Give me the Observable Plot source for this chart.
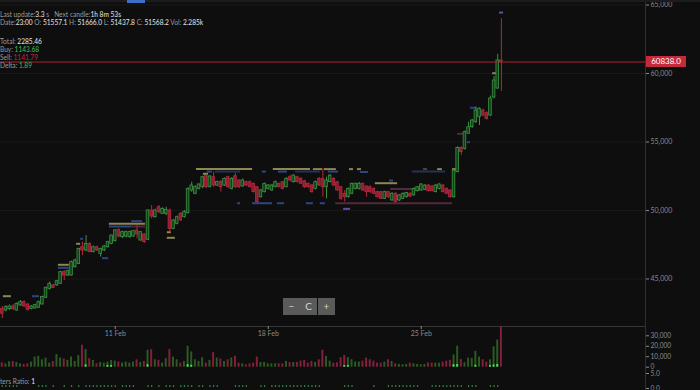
<!DOCTYPE html>
<html><head><meta charset="utf-8">
<script src="https://cdn.jsdelivr.net/npm/d3@7"></script>
<script src="https://cdn.jsdelivr.net/npm/@observablehq/plot@0.6"></script>
<style>
html,body{margin:0;padding:0;background:#0e0e0e;}
#wrap{position:relative;width:700px;height:390px;overflow:hidden;background:#0e0e0e;font-family:Lato,sans-serif;}
#wrap svg{position:absolute;left:0;overflow:visible;}
.info{position:absolute;left:0;font-size:6.6px;line-height:8px;color:#9a9a9a;white-space:nowrap;}
.info .v{color:#e4e4e4;}
.info .g{color:#3fbf5c;}
.info .r{color:#c4283e;}
.btn{position:absolute;top:298px;width:17px;height:17px;background:#5a5a5a;color:#d4d4d4;font-size:10px;line-height:17px;text-align:center;}
</style></head><body><div id="wrap"></div>
<script>
// ---- data: 4h candles from 5 Feb 20:00 UTC ----
const startTime = Date.UTC(2024, 1, 5, 20);
const open = [42820,42700,42800,42990,42700,43070,43310,43140,42820,42850,
42900,43140,43630,44280,44530,44530,44650,45500,45250,45250,
45860,46100,47320,47080,47560,46960,47320,46830,47080,47320,
47560,47760,48590,48050,48100,48050,48100,48540,47810,48250,
47860,50000,49510,50240,49760,49760,50000,48660,49030,49760,
49510,49800,51460,51220,51580,51700,52500,51700,52430,51820,
52070,51820,52430,51580,52500,52190,51750,52070,52070,51950,
51700,50970,51340,51580,51460,51700,51950,52070,51700,52430,
52070,52430,52310,52140,51950,51820,51580,52310,52310,51700,
52070,52310,52070,51700,51220,50970,51220,51580,51580,51950,
51750,51700,51580,51340,51340,50850,51340,50730,51220,50730,
50850,50970,51220,51100,51410,51460,51510,51820,51750,51340,
51580,51820,51580,51460,50970,52800,54570,54500,55600,56080,
56450,56810,57300,57100,56930,58250,58900,60950];
const high = [43000,43050,43100,43140,43260,43430,43400,43200,43050,43150,
43400,43750,44400,44770,44600,44900,45550,45600,45650,46300,
46450,47250,47690,48170,47650,47400,47400,47250,47450,47750,
48200,48600,48650,48500,48500,48500,48550,48900,48450,48300,
50050,50360,50100,50360,50200,50240,50100,49350,49600,49850,
50000,51650,52070,51800,51950,52500,52550,52550,52800,52150,
52200,52380,52500,52400,52700,52250,52300,52150,52150,52000,
51750,51550,52000,51900,51900,52150,52000,52100,52400,52550,
52600,52500,52400,52200,52000,51900,52150,52400,53040,52430,
52600,52400,52100,51750,51460,51650,52000,52000,52050,52000,
51800,51800,51650,51400,51400,51400,51400,51300,51300,51150,
51280,51330,51300,51650,51750,51950,51900,51900,51800,51900,
51950,51900,51650,51500,53000,54650,54650,55800,56450,56650,
57540,57500,57400,57200,58350,59780,61390,64000];
const low = [42100,42600,42700,42700,42650,43000,42950,42650,42750,42800,
42850,43100,43580,44200,44300,44450,44600,44890,45200,45200,
45800,46050,46700,47000,46900,46900,47000,46600,47000,47250,
47500,47700,48000,47950,48000,47980,48050,47930,47750,47600,
47800,49390,49450,49750,49700,49630,48420,48600,48950,49200,
49450,49750,51330,51150,51500,51600,51600,51650,51700,51750,
51340,51750,51600,51500,51600,51600,51700,51750,51650,51280,
50530,50900,51280,51500,51400,51650,51650,51500,51650,52100,
52000,52000,51900,51600,51600,51250,51500,51750,50970,50850,
52000,51750,51400,50750,50610,50900,51150,51500,51500,51400,
50970,51250,51150,50900,50800,50800,50900,50680,50550,50650,
50800,50900,50950,51050,51350,51400,51450,51350,51350,51280,
51500,51280,51150,50900,50900,52750,54020,54400,55550,56000,
56350,56200,56850,56600,56850,58150,58850,58700];
const close = [42460,42940,42990,42800,43190,43310,42990,42750,42990,43090,
43310,43680,44360,44650,44350,44840,45500,45250,45570,46230,
46350,47200,47080,47560,46960,47320,47080,47200,47370,47690,
48170,48540,48100,48420,48420,48420,48490,48250,48420,47690,
50000,49560,50000,49880,50120,50050,48660,49270,49510,49270,
49880,51580,51820,51700,51900,52430,51700,52480,51820,52070,
51700,52310,51700,52310,51700,51700,52190,51820,51700,51340,
50610,51460,51950,51820,51820,52070,51700,51580,52310,52190,
52550,52070,51950,51700,51700,51340,52070,51820,51700,52190,
52550,51820,51460,50850,50970,51580,51950,51950,51950,51460,
51340,51340,51220,50970,50850,51340,50970,51220,50610,51100,
51220,51270,51020,51580,51700,51900,51820,51410,51410,51820,
51900,51340,51220,50970,52920,54570,54260,55720,56080,56570,
57300,57420,56930,56690,58180,59490,60950,60838];
// volume in thousands
const volume = [4.2,3.2,5.2,5.5,4.5,3.2,2.6,3.2,4.9,9.7,
10.4,7.1,8.7,3.9,5.5,12,8.7,7.8,6.5,9.7,
5.5,11,21,16.8,8.1,6.5,3.2,4.5,3.9,4.9,
6.5,5.8,4.9,3.9,4.9,3.9,4.9,7.1,4.5,5.5,
16.2,16.8,7.1,6.5,3.9,8.1,16.8,9.7,7.1,3.9,
5.5,20,14.6,7.1,5.5,9.1,3.9,6.5,13.9,8.7,
7.8,5.5,7.1,8.7,10.4,3.9,3.2,2.3,3.2,3.9,
9.7,4.5,4.5,3.2,3.2,3.2,3.2,3.2,5.5,4.5,
4.5,4.5,5.8,6.5,3.9,5.5,4.5,7.1,16.2,10.4,
5.8,3.9,4.2,9.1,11.3,9.1,7.1,4.9,4.9,5.8,
8.7,7.1,5.8,3.9,3.9,4.9,7.1,5.5,3.2,2.6,
2.3,2.6,3.9,3.2,2.6,2.3,2.6,3.9,3.9,3.9,
3.9,4.9,5.8,6.5,11.7,20,7.4,4.2,8.7,8.4,
15.2,9.7,7.1,4.9,7.1,19.4,25.9,38.5];
// bright buy-burst segments at the foot of some volume bars (index, thousands)
const burstIdx = [23,29,30,40,51,52,94,95,124,125,130,134,135,136];
const burstVol = [2.2,1.6,1.6,2.4,2.4,1.8,1.6,1.6,2.4,2.6,1.8,1.6,2.2,2.6];
// traders ratio dots
const ratioIdx = [0,1,2,3,4,10,11,12,14,17,19,21,23,24,25,26,27,28,29,30,31,33,34,35,36,40,41,43,45,46,47,49,50,51,52,54,55,57,58,59,64,65,66,67,71,72,74,75,76,77,78,79,80,81,82,83,84,85,86,87,94,95,96,102,106,107,108,109,110,111,112,113,114,118,119,120,121,122,123,124,125,126,128,129,130,134,135,136];
const ratioValue = 0.8;
// level markers: [price, from candle, to candle, kind]
const levels = [
[53020,53.3,68.7,"ask"],[53020,74.4,84.6,"ask"],[53020,85.4,87.9,"ask"],[53020,88.4,91.7,"ask"],
[53020,95.3,96.4,"ask"],[53020,97.5,98.6,"ask"],[53020,115.6,116.7,"askDim"],[53020,119.5,120.8,"ask"],[53020,123.6,125,"ask"],
[52840,56.3,57.7,"bid"],[52840,58.5,65.4,"bidDim"],[52840,71.4,72.5,"bid"],[52840,75.8,78.3,"bid"],
[52840,80.5,87.3,"bidDim"],[52840,89.5,92.3,"bid"],[52840,112.6,121.7,"bidDim"],[52810,98.3,100.5,"bid"],
[52680,55.2,56.6,"ask"],[51992,102.4,108.5,"ask"],[52190,106.3,107.4,"bid"],[51570,106.6,112.6,"mix"],
[50530,64.6,65.4,"bid"],[50530,68.7,74.2,"bid"],[50530,75.5,77.5,"bid"],[50530,83.5,85.4,"bid"],[50530,87.3,88.7,"bid"],
[50530,91.5,123.6,"mix"],[50120,93.7,95.6,"vol"],
[49030,29.4,39.3,"ask"],[48830,29.4,35.5,"bid"],[48830,35.5,39.3,"mix"],[49220,35.5,38.5,"bid"],
[48415,45.3,46.4,"orange"],[48006,45.3,47.5,"ask"],[47568,20.4,21.5,"ask"],[47930,21.5,22.3,"bid"],
[46517,27.5,29.2,"bid"],[46035,15.4,18.4,"ask"],[45816,15.4,18.4,"bid"],[43743,0.3,2.5,"ask"],[43743,8.3,10.2,"bid"],
[55600,125,126.6,"mix"],[54985,127.7,128.5,"bid"],[57500,128.5,130.4,"bid"],[60020,134.6,136,"ask"],[64450,136.5,137.6,"vol"]
];
const priceTicks = [45000,50000,55000,60000,65000];
const volTicks = [0,10000,20000,30000];
const ratioTicks = [0,5];
const dateTicks = [Date.UTC(2024,1,11),Date.UTC(2024,1,18),Date.UTC(2024,1,25)];
const lastPrice = 60838.0;

// ---- build ----
const H4 = 4*3600e3;
const T = i => new Date(startTime + i*H4);
const G_FILL="#163d1b", G_LINE="#3b9443", R_FILL="#8e1d30", R_LINE="#b6283f";
const VG="#2b5b22", VR="#861f3c";
const levelColor = {ask:"#8c8753", askDim:"#4e4b33", bid:"#2c4684", bidDim:"#223354", mix:"#55283a", vol:"#6a4aa4", orange:"#b07a3c"};
const candles = open.map((o,i)=>({t:T(i), o, h:high[i], l:low[i], c:close[i], v:volume[i]*1000, up: close[i]>=o}));
const lv = levels.map(([p,a,b,k])=>({p, a:T(a), b:T(b), k}));
const xDomain = [T(-0.494), T(176.56)];
const style = {background:"transparent", color:"#8a8a8a", fontFamily:"Lato, sans-serif", fontSize:"7px", overflow:"visible"};
const wrap = document.getElementById("wrap");

const main = Plot.plot({
  width:700, height:345, marginLeft:0, marginRight:55, marginTop:0, marginBottom:19, style,
  x:{type:"utc", domain:xDomain, label:null},
  y:{domain:[41531,65329], label:null},
  marks:[
    Plot.gridY(priceTicks, {stroke:"#ffffff", strokeOpacity:0.05}),
    Plot.ruleY([41531], {stroke:"#363636"}),
    Plot.ruleY(lv, {y:"p", x1:"a", x2:"b", stroke:d=>levelColor[d.k], strokeWidth:2}),
    Plot.ruleX(candles, {x:"t", y1:"l", y2:"h", stroke:d=>d.up?G_LINE:R_LINE, strokeWidth:1}),
    Plot.rect(candles, {x1:d=>new Date(+d.t-0.36*H4), x2:d=>new Date(+d.t+0.36*H4), y1:"o", y2:"c",
      fill:d=>d.up?G_FILL:R_FILL, stroke:d=>d.up?G_LINE:R_LINE, strokeWidth:0.8}),
    Plot.ruleY([lastPrice], {stroke:"#b0232f", strokeWidth:1}),
    Plot.axisY({anchor:"right", ticks:priceTicks, tickFormat:d3.format(","), tickSize:3, tickPadding:2, label:null}),
    Plot.axisX({ticks:dateTicks.map(d=>new Date(d)), tickFormat:d=>`${d.getUTCDate()} Feb`, tickSize:3, tickPadding:2, label:null})
  ]
});
main.style.top="0px";
wrap.appendChild(main);

const volRows = candles.map(d=>({t0:new Date(+d.t-0.27*H4), t1:new Date(+d.t+0.27*H4), v:d.v, up:d.up}));
const burstRows = burstIdx.map((i,k)=>({t0:new Date(+T(i)-0.27*H4), t1:new Date(+T(i)+0.27*H4), v:burstVol[k]*1000}));
const vol = Plot.plot({
  width:700, height:64, marginLeft:0, marginRight:55, marginTop:0, marginBottom:23.3,
  style:{...style, fontSize:"6.6px"},
  x:{type:"utc", domain:xDomain, axis:null},
  y:{domain:[0,38870], axis:"right", ticks:volTicks, tickFormat:d3.format(","), tickSize:3, tickPadding:2, label:null, labelArrow:false},
  marks:[
    Plot.rect(volRows, {x1:"t0", x2:"t1", y1:0, y2:"v", fill:d=>d.up?VG:VR}),
    Plot.rect(burstRows, {x1:"t0", x2:"t1", y1:0, y2:"v", fill:"#3fe35e"})
  ]
});
vol.style.top="326px";
wrap.appendChild(vol);

const ratio = Plot.plot({
  width:700, height:20, marginLeft:0, marginRight:55, marginTop:0, marginBottom:2,
  style:{...style, fontSize:"6.6px"},
  x:{type:"utc", domain:xDomain, axis:null},
  y:{domain:[0,6], axis:"right", ticks:ratioTicks, tickSize:3, tickPadding:2, label:null, labelArrow:false},
  marks:[
    Plot.dot(ratioIdx, {x:i=>T(i), y:()=>ratioValue, r:0.8, fill:"#3aa84a", stroke:null})
  ]
});
ratio.style.top="370px";
wrap.appendChild(ratio);

// right separator and top strip
function box(css, html){const d=document.createElement("div");d.style.cssText="position:absolute;"+css;if(html)d.innerHTML=html;wrap.appendChild(d);return d;}
box("left:645px;top:0;width:1px;height:390px;background:#2f2f2f;");
box("left:0;top:0;width:700px;height:2px;background:#1c1c1c;");
box("left:127px;top:0;width:18px;height:3px;background:#3d70c4;");

// price label
const py = main.scale("y").apply(lastPrice);
box(`left:646px;top:${py-5.2}px;width:40px;height:10.4px;background:#c32a3b;color:#fff;font-size:8px;line-height:10.4px;text-align:center;font-family:Lato,sans-serif;`, lastPrice.toFixed(1));

// info text
const info = [
  [10.3, 'Last update:<span class="v">3.3</span> s &nbsp;&nbsp;Next candle:<span class="v">1h 8m 53s</span>'],
  [17.8, 'Date:<span class="v">23:00</span> O: <span class="v">51557.1</span> H: <span class="v">51666.0</span> L: <span class="v">51437.8</span> C: <span class="v">51568.2</span> Vol: <span class="v">2.285k</span>'],
  [36.8, 'Total: <span class="v">2285.46</span>'],
  [45.0, 'Buy: <span class="g">1143.68</span>'],
  [53.0, 'Sell: <span class="r">1141.79</span>'],
  [61.3, 'Delta: <span class="g">1.89</span>'],
  [376.5, 'ters Ratio: <span class="v">1</span>']
];
for (const [t,h] of info){const d=box(`top:${t}px;`,h);d.className="info";}

// zoom buttons
[["−",283],["C",300],["+",318]].forEach(([s,x])=>{const d=box(`left:${x}px;`,s);d.className="btn";});
</script></body></html>
